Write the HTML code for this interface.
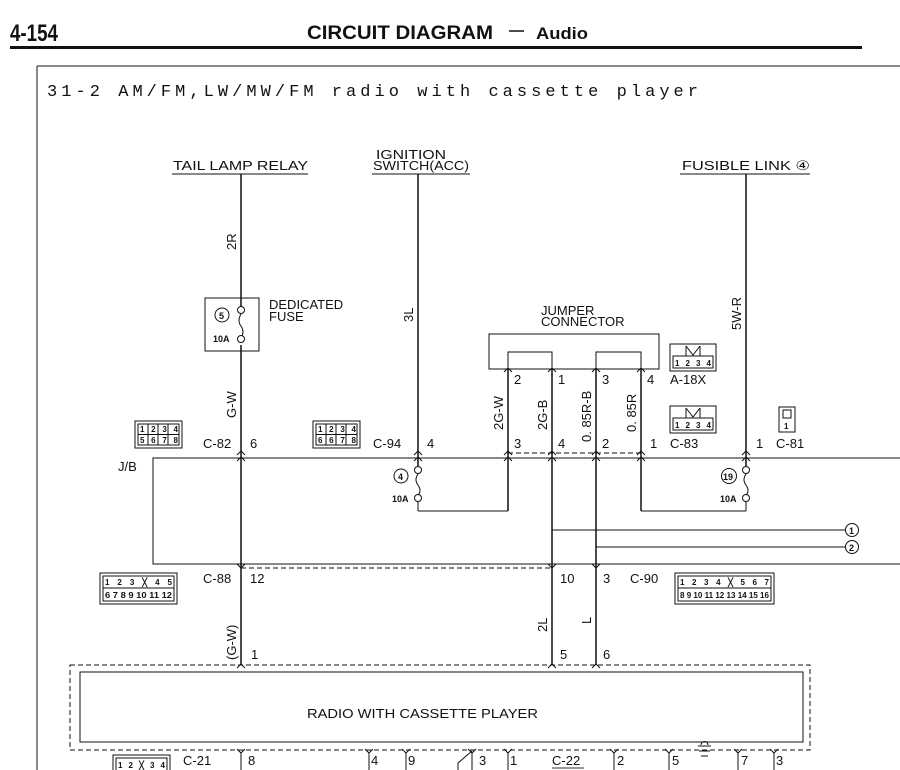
<!DOCTYPE html>
<html><head><meta charset="utf-8"><style>
html,body{margin:0;padding:0;background:#fff;}
svg{display:block;}
text{font-family:"Liberation Sans",sans-serif;fill:#111;}
.m{font-family:"Liberation Sans Narrow","Liberation Sans",sans-serif;font-size:13px;}
.s{font-size:13px;}
.b{font-size:9px;font-weight:bold;}
</style></head><body>
<svg width="900" height="770" viewBox="0 0 900 770" xmlns="http://www.w3.org/2000/svg" stroke="#111" fill="none" stroke-width="1">
<!-- header -->
<text x="10" y="41" style="font-size:24px;font-weight:bold" stroke="none" textLength="48" lengthAdjust="spacingAndGlyphs">4-154</text>
<text x="307" y="39" style="font-size:19px;font-weight:bold" stroke="none" textLength="186" lengthAdjust="spacingAndGlyphs">CIRCUIT DIAGRAM</text>
<line x1="509" y1="31" x2="524" y2="31" stroke-width="1.5"/>
<text x="536" y="39" style="font-size:17px;font-weight:bold" stroke="none" textLength="52" lengthAdjust="spacingAndGlyphs">Audio</text>
<line x1="10" y1="47.5" x2="862" y2="47.5" stroke-width="3"/>
<line x1="37" y1="66" x2="900" y2="66"/>
<line x1="37" y1="66" x2="37" y2="770"/>
<text x="47" y="96" style="font-size:17px;font-family:'Liberation Mono',monospace" stroke="none" textLength="651" lengthAdjust="spacing">31-2 AM/FM,LW/MW/FM radio with cassette player</text>

<!-- top labels -->
<g stroke="none" class="m">
<text x="173" y="170" textLength="135" lengthAdjust="spacingAndGlyphs">TAIL LAMP RELAY</text>
<text x="376" y="159" textLength="70" lengthAdjust="spacingAndGlyphs">IGNITION</text>
<text x="373" y="170" textLength="96" lengthAdjust="spacingAndGlyphs">SWITCH(ACC)</text>
<text x="682" y="170" textLength="128" lengthAdjust="spacingAndGlyphs">FUSIBLE LINK ④</text>
</g>
<line x1="172" y1="174" x2="308" y2="174"/>
<line x1="372" y1="174" x2="470" y2="174"/>
<line x1="680" y1="174" x2="810" y2="174"/>

<!-- main verticals -->
<line x1="241" y1="174" x2="241" y2="312" stroke-width="1.5"/>
<line x1="241" y1="345" x2="241" y2="665" stroke-width="1.5"/>
<line x1="418" y1="174" x2="418" y2="466" stroke-width="1.5"/>
<line x1="418" y1="502" x2="418" y2="511"/>
<line x1="418" y1="511" x2="508" y2="511"/>
<line x1="746" y1="174" x2="746" y2="466" stroke-width="1.5"/>
<line x1="746" y1="502" x2="746" y2="511"/>
<line x1="641" y1="511" x2="746" y2="511"/>

<!-- wire color labels (rotated) -->
<g stroke="none" class="m">
<text transform="translate(236,250) rotate(-90)">2R</text>
<text transform="translate(413,322) rotate(-90)">3L</text>
<text transform="translate(236,418) rotate(-90)">G-W</text>
<text transform="translate(741,330) rotate(-90)">5W-R</text>
<text transform="translate(503,430) rotate(-90)">2G-W</text>
<text transform="translate(547,430) rotate(-90)">2G-B</text>
<text transform="translate(591,442) rotate(-90)">0. 85R-B</text>
<text transform="translate(636,432) rotate(-90)">0. 85R</text>
<text transform="translate(236,660) rotate(-90)">(G-W)</text>
<text transform="translate(547,632) rotate(-90)">2L</text>
<text transform="translate(591,624) rotate(-90)">L</text>
</g>

<!-- dedicated fuse -->
<rect x="205" y="298" width="54" height="53"/>
<circle cx="222" cy="315" r="7"/>
<text x="219" y="319" class="b" stroke="none">5</text>
<circle cx="241" cy="310" r="3.5" fill="#fff"/>
<path d="M241 314 q-4 7 0 12 q4 6 0 12"/>
<circle cx="241" cy="339" r="3.5" fill="#fff"/>
<text x="213" y="342" class="b" stroke="none">10A</text>
<text x="269" y="309" class="m" stroke="none">DEDICATED</text>
<text x="269" y="321" class="m" stroke="none">FUSE</text>

<!-- J/B -->
<polyline points="900,458 153,458 153,564 900,564"/>
<text x="118" y="471" class="s" stroke="none">J/B</text>
<!-- fuse 4 -->
<circle cx="418" cy="470" r="3.5" fill="#fff"/>
<path d="M418 474 q-4 6 0 11 q4 6 0 10"/>
<circle cx="418" cy="498" r="3.5" fill="#fff"/>
<circle cx="401" cy="476" r="7"/>
<text x="398" y="480" class="b" stroke="none">4</text>
<text x="392" y="502" class="b" stroke="none">10A</text>
<!-- fuse 19 -->
<circle cx="746" cy="470" r="3.5" fill="#fff"/>
<path d="M746 474 q-4 6 0 11 q4 6 0 10"/>
<circle cx="746" cy="498" r="3.5" fill="#fff"/>
<circle cx="729" cy="476" r="7.5"/>
<text x="723" y="480" class="b" stroke="none">19</text>
<text x="720" y="502" class="b" stroke="none">10A</text>

<!-- jumper connector -->
<text x="541" y="315" class="m" stroke="none">JUMPER</text>
<text x="541" y="326" class="m" stroke="none">CONNECTOR</text>
<rect x="489" y="334" width="170" height="35"/>
<polyline points="508,369 508,352 552,352 552,369"/>
<polyline points="596,369 596,352 641,352 641,369"/>
<line x1="508" y1="369" x2="508" y2="511" stroke-width="1.5"/>
<line x1="552" y1="369" x2="552" y2="665" stroke-width="1.5"/>
<line x1="596" y1="369" x2="596" y2="665" stroke-width="1.5"/>
<line x1="641" y1="369" x2="641" y2="511" stroke-width="1.5"/>
<line x1="508" y1="453" x2="641" y2="453" stroke-dasharray="5,3"/>
<g stroke="none" class="m">
<text x="514" y="384">2</text><text x="558" y="384">1</text><text x="602" y="384">3</text><text x="647" y="384">4</text>
<text x="514" y="448">3</text><text x="558" y="448">4</text><text x="602" y="448">2</text><text x="650" y="448">1</text>
<text x="670" y="384">A-18X</text>
<text x="670" y="448">C-83</text>
<text x="756" y="448">1</text><text x="776" y="448">C-81</text>
<text x="250" y="448">6</text><text x="203" y="448">C-82</text>
<text x="427" y="448">4</text><text x="373" y="448">C-94</text>
</g>
<!-- arrows -->
<g stroke-width="1">
<path d="M504 372 l4 -4 l4 4"/><path d="M548 372 l4 -4 l4 4"/><path d="M592 372 l4 -4 l4 4"/><path d="M637 372 l4 -4 l4 4"/>
<path d="M237 455 l4 -4 l4 4"/><path d="M237 461 l4 -4 l4 4"/>
<path d="M414 455 l4 -4 l4 4"/><path d="M414 461 l4 -4 l4 4"/>
<path d="M742 455 l4 -4 l4 4"/><path d="M742 461 l4 -4 l4 4"/>
<path d="M504 455 l4 -4 l4 4"/><path d="M548 455 l4 -4 l4 4"/><path d="M592 455 l4 -4 l4 4"/><path d="M637 455 l4 -4 l4 4"/>
<path d="M504 461 l4 -4 l4 4"/><path d="M548 461 l4 -4 l4 4"/><path d="M592 461 l4 -4 l4 4"/><path d="M637 461 l4 -4 l4 4"/>
<path d="M237 564 l4 4 l4 -4"/><path d="M548 564 l4 4 l4 -4"/><path d="M592 564 l4 4 l4 -4"/>
<path d="M237 668 l4 -4 l4 4"/><path d="M548 668 l4 -4 l4 4"/><path d="M592 668 l4 -4 l4 4"/>
</g>

<!-- outputs 1 and 2 -->
<line x1="552" y1="530" x2="845" y2="530"/>
<line x1="596" y1="547" x2="845" y2="547"/>
<circle cx="852" cy="530" r="6.5"/><text x="849" y="534" class="b" stroke="none">1</text>
<circle cx="852" cy="547" r="6.5"/><text x="849" y="551" class="b" stroke="none">2</text>

<!-- C-88 / C-90 -->
<line x1="241" y1="568" x2="552" y2="568" stroke-dasharray="5,3"/>
<g stroke="none" class="m">
<text x="203" y="583">C-88</text><text x="250" y="583">12</text>
<text x="560" y="583">10</text><text x="603" y="583">3</text><text x="630" y="583">C-90</text>
<text x="251" y="659">1</text><text x="560" y="659">5</text><text x="603" y="659">6</text>
</g>

<!-- connector icons -->
<g stroke-width="1">
<rect x="135" y="421" width="47" height="27"/><rect x="138" y="424" width="41" height="21"/>
<line x1="138" y1="434.5" x2="179" y2="434.5"/><line x1="148" y1="424" x2="148" y2="445"/><line x1="158" y1="424" x2="158" y2="445"/><line x1="168" y1="424" x2="168" y2="445"/>
<rect x="313" y="421" width="47" height="27"/><rect x="316" y="424" width="41" height="21"/>
<line x1="316" y1="434.5" x2="357" y2="434.5"/><line x1="326" y1="424" x2="326" y2="445"/><line x1="336" y1="424" x2="336" y2="445"/><line x1="346" y1="424" x2="346" y2="445"/>
<rect x="100" y="573" width="77" height="31"/><rect x="103" y="576" width="71" height="25"/>
<line x1="103" y1="588" x2="174" y2="588"/>
<rect x="670" y="344" width="46" height="27"/><rect x="673" y="356" width="40" height="12"/>
<path d="M686 346 v10 M700 346 v10 M686 346 l7 9 l7 -9"/>
<rect x="670" y="406" width="46" height="27"/><rect x="673" y="418" width="40" height="12"/>
<path d="M686 408 v10 M700 408 v10 M686 408 l7 9 l7 -9"/>
<rect x="675" y="573" width="99" height="31"/><rect x="678" y="576" width="93" height="25"/>
<line x1="678" y1="588" x2="771" y2="588"/>
<rect x="779" y="407" width="16" height="25"/><rect x="783" y="410" width="8" height="8"/>
</g>
<g stroke="none" style="font-size:8px;font-weight:bold">
<text x="140" y="432" textLength="38">1 2 3 4</text><text x="140" y="443" textLength="38">5 6 7 8</text>
<text x="318" y="432" textLength="38">1 2 3 4</text><text x="318" y="443" textLength="38">6 6 7 8</text>
<text x="105" y="585" textLength="67">1 2 3 ╳ 4 5</text><text x="105" y="598" textLength="67" lengthAdjust="spacingAndGlyphs">6 7 8 9 10 11 12</text>
<text x="680" y="585" textLength="89">1 2 3 4 ╳ 5 6 7</text><text x="680" y="598" textLength="89" lengthAdjust="spacingAndGlyphs">8 9 10 11 12 13 14 15 16</text>
<text x="675" y="366" textLength="36">1 2 3 4</text><text x="675" y="428" textLength="36">1 2 3 4</text>
<text x="784" y="429">1</text>
</g>

<!-- radio box -->
<rect x="70" y="665" width="740" height="85" stroke-dasharray="5,3"/>
<rect x="80" y="672" width="723" height="70"/>
<text x="307" y="718" class="m" stroke="none" textLength="231" lengthAdjust="spacingAndGlyphs">RADIO WITH CASSETTE PLAYER</text>

<!-- bottom pins -->
<g>
<line x1="241" y1="752" x2="241" y2="770"/><path d="M237 749 l4 4 l4 -4"/>
<line x1="369" y1="752" x2="369" y2="770"/><path d="M365 749 l4 4 l4 -4"/>
<line x1="406" y1="752" x2="406" y2="770"/><path d="M402 749 l4 4 l4 -4"/>
<line x1="472" y1="752" x2="472" y2="770"/><path d="M468 749 l4 4 l4 -4"/><path d="M472 751 l-14 12 v7"/>
<line x1="508" y1="752" x2="508" y2="770"/><path d="M504 749 l4 4 l4 -4"/>
<line x1="614" y1="752" x2="614" y2="770"/><path d="M610 749 l4 4 l4 -4"/>
<line x1="669" y1="752" x2="669" y2="770"/><path d="M665 749 l4 4 l4 -4"/>
<line x1="738" y1="752" x2="738" y2="770"/><path d="M734 749 l4 4 l4 -4"/>
<line x1="774" y1="752" x2="774" y2="770"/><path d="M770 749 l4 4 l4 -4"/>
<path d="M701 745 a3.5 3.5 0 0 1 7 0"/><line x1="698" y1="746" x2="711" y2="746"/><line x1="699" y1="751" x2="710" y2="751"/><line x1="701" y1="756" x2="708" y2="756"/>
<line x1="552" y1="768" x2="584" y2="768" stroke="#999" stroke-width="2"/>
</g>
<g stroke="none" class="m">
<text x="183" y="765">C-21</text><text x="248" y="765">8</text>
<text x="371" y="765">4</text><text x="408" y="765">9</text>
<text x="479" y="765">3</text><text x="510" y="765">1</text>
<text x="552" y="765">C-22</text><text x="617" y="765">2</text><text x="672" y="765">5</text>
<text x="741" y="765">7</text><text x="776" y="765">3</text>
</g>
<rect x="113" y="755" width="57" height="20"/><rect x="116" y="758" width="51" height="15"/>
<text x="118" y="768" stroke="none" style="font-size:8px;font-weight:bold" textLength="47">1 2 ╳ 3 4</text>
</svg>
</body></html>
